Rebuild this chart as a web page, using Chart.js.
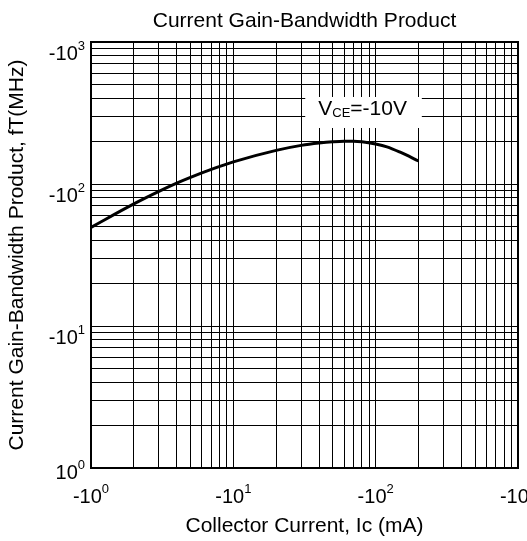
<!DOCTYPE html>
<html>
<head>
<meta charset="utf-8">
<script src="https://cdn.jsdelivr.net/npm/chart.js@4.4.1/dist/chart.umd.min.js"></script>
<style>
  html, body { margin: 0; padding: 0; background: #fff; }
  #wrap { width: 527px; height: 541px; }
</style>
</head>
<body>
<div id="wrap"><canvas id="c" width="527" height="541"></canvas></div>
<script>
// ---- data ----
const collectorCurrent = [1, 2, 3, 4, 5, 7, 10, 20, 30, 40, 50, 60, 70, 80, 100, 120, 150, 200];
const gainBandwidth    = [49.5, 72.4, 88.7, 101.4, 111.4, 126.8, 143.2, 172.6, 187.1, 194.5, 198.6, 200.4, 200.4, 198.6, 191.4, 182.8, 166.7, 145.2];

const xTickValues = [1, 10, 100, 1000];
const xTickBase   = ['-10', '-10', '-10', '-10'];
const xTickExp    = ['0', '1', '2', '3'];
const yTickValues = [1, 10, 100, 1000];
const yTickBase   = ['10', '-10', '-10', '-10'];
const yTickExp    = ['0', '1', '2', '3'];

const titleText  = 'Current Gain-Bandwidth Product';
const xTitleText = 'Collector Current, Ic (mA)';
const yTitleText = 'Current Gain-Bandwidth Product, fT(MHz)';
const noteMain = 'V';
const noteSub  = 'CE';
const noteRest = '=-10V';

const FONT = '"Liberation Sans", Arial, Helvetica, sans-serif';

function logGridTicks(min, max) {
  const t = [];
  for (let d = min; d < max; d *= 10) {
    for (let m = 1; m < 10; m++) t.push({ value: d * m });
  }
  t.push({ value: max });
  return t;
}

const labelsPlugin = {
  id: 'decadeLabels',
  afterDraw(chart) {
    const ctx = chart.ctx;
    const xs = chart.scales.x, ys = chart.scales.y;
    const area = chart.chartArea;
    ctx.save();
    // frame
    ctx.strokeStyle = '#000';
    ctx.lineWidth = 2;
    ctx.strokeRect(area.left, area.top, area.right - area.left, area.bottom - area.top);

    ctx.fillStyle = '#000';
    ctx.textBaseline = 'alphabetic';
    const baseFont = '20px ' + FONT;
    const expFont = '13px ' + FONT;
    // x tick labels
    xTickValues.forEach((v, i) => {
      const px = xs.getPixelForValue(v);
      ctx.font = baseFont;
      const wb = ctx.measureText(xTickBase[i]).width;
      ctx.font = expFont;
      const we = ctx.measureText(xTickExp[i]).width;
      const x0 = px - (wb + we) / 2;
      const bl = area.bottom + 35;
      ctx.font = baseFont;
      ctx.textAlign = 'left';
      ctx.fillText(xTickBase[i], x0, bl);
      ctx.font = expFont;
      ctx.fillText(xTickExp[i], x0 + wb, bl - 10);
    });
    // y tick labels
    yTickValues.forEach((v, i) => {
      const py = ys.getPixelForValue(v);
      const right = area.left - 6;
      ctx.font = expFont;
      const we = ctx.measureText(yTickExp[i]).width;
      const bl = Math.min(py + 18, area.bottom + 11);
      ctx.textAlign = 'right';
      ctx.font = baseFont;
      ctx.fillText(yTickBase[i], right - we, bl);
      ctx.textAlign = 'left';
      ctx.font = expFont;
      ctx.fillText(yTickExp[i], right - we, bl - 10);
    });

    // annotation box
    const bx0 = xs.getPixelForValue(32), bx1 = xs.getPixelForValue(211);
    const by0 = ys.getPixelForValue(410), by1 = ys.getPixelForValue(248);
    ctx.fillStyle = '#fff';
    ctx.fillRect(bx0, by0, bx1 - bx0, by1 - by0);
    ctx.fillStyle = '#000';
    ctx.textAlign = 'left';
    const tbl = by0 + 18;
    let tx = bx0 + 13;
    ctx.font = '21px ' + FONT;
    ctx.fillText(noteMain, tx, tbl);
    tx += ctx.measureText(noteMain).width;
    ctx.font = '13px ' + FONT;
    ctx.fillText(noteSub, tx, tbl + 2);
    tx += ctx.measureText(noteSub).width;
    ctx.font = '21px ' + FONT;
    ctx.fillText(noteRest, tx, tbl);
    ctx.restore();
  }
};

new Chart(document.getElementById('c'), {
  type: 'line',
  data: {
    datasets: [{
      data: collectorCurrent.map((x, i) => ({ x: x, y: gainBandwidth[i] })),
      borderColor: '#000',
      borderWidth: 3,
      pointRadius: 0,
      fill: false,
      cubicInterpolationMode: 'monotone'
    }]
  },
  options: {
    responsive: false,
    animation: false,
    layout: { padding: { left: 0, right: 9, top: 0, bottom: 0 } },
    plugins: {
      legend: { display: false },
      tooltip: { enabled: false },
      title: {
        display: true,
        text: titleText,
        fullSize: false,
        color: '#000',
        font: { family: FONT, size: 21, weight: 'normal', lineHeight: 1.2 },
        padding: { top: 8.4, bottom: 8.4 }
      }
    },
    scales: {
      x: {
        type: 'logarithmic',
        min: 1, max: 1000,
        afterBuildTicks: s => { s.ticks = logGridTicks(1, 1000); },
        afterFit: s => { s.height = 73; },
        ticks: { display: false },
        grid: { color: '#000', lineWidth: 1, drawTicks: false },
        border: { display: false },
        title: {
          display: true, text: xTitleText, color: '#000',
          font: { family: FONT, size: 21, lineHeight: 1.2 },
          padding: { top: 0, bottom: 2.4 }
        }
      },
      y: {
        type: 'logarithmic',
        min: 1, max: 1000,
        afterBuildTicks: s => { s.ticks = logGridTicks(1, 1000); },
        afterFit: s => { s.width = 91; },
        ticks: { display: false },
        grid: { color: '#000', lineWidth: 1, drawTicks: false },
        border: { display: false },
        title: {
          display: true, text: yTitleText, color: '#000',
          font: { family: FONT, size: 21, lineHeight: 1.2 },
          padding: { top: 4.4, bottom: 0 }
        }
      }
    }
  },
  plugins: [labelsPlugin]
});
</script>
</body>
</html>
